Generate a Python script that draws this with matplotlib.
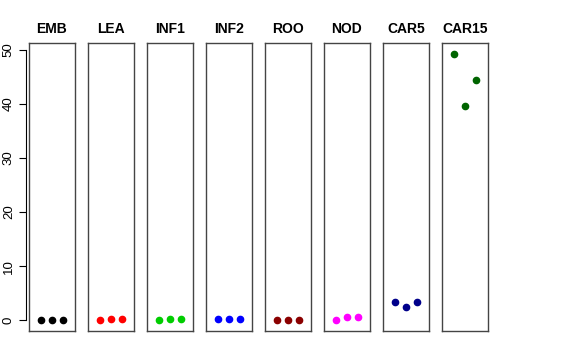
import matplotlib
matplotlib.use("Agg")
import matplotlib.pyplot as plt

plt.rcParams['font.family'] = ['Liberation Sans', 'DejaVu Sans']

groups = ['EMB', 'LEA', 'INF1', 'INF2', 'ROO', 'NOD', 'CAR5', 'CAR15']
colors = ['black', 'red', '#00CD00', 'blue', '#8B0000', 'magenta', '#00008B', '#006400']
reps = [1, 2, 3]
values = [
    [0.0, 0.0, 0.0],
    [0.1, 0.25, 0.3],
    [0.1, 0.2, 0.2],
    [0.25, 0.3, 0.15],
    [-0.05, 0.0, -0.05],
    [0.1, 0.6, 0.55],
    [3.3, 2.5, 3.4],
    [49.3, 39.7, 44.4],
]
yticks = [0, 10, 20, 30, 40, 50]


def main():
    fig = plt.figure(figsize=(5.76, 3.6), dpi=100)
    left0 = 29 / 576
    step = 59 / 576
    w = 46 / 576
    for i, g in enumerate(groups):
        ax = fig.add_axes([left0 + i * step, 0.0806, w, 0.80])
        ax.plot(reps, values[i], 'o', color=colors[i], ms=4.5)
        ax.set_xlim(-0.17, 4.17)
        ax.set_ylim(-2.0, 51.3)
        ax.set_xticks([])
        ax.set_yticks([])
        for s in ax.spines.values():
            s.set_color('#444444')
            s.set_linewidth(1.0)
        ax.set_title(g, fontweight='bold', fontsize=10, pad=7)
        if i == 0:
            sec = ax.secondary_yaxis(-0.065)
            sec.set_yticks(yticks)
            sec.spines['left'].set_bounds(0, 50)
            sec.spines['left'].set_color('black')
            sec.tick_params(axis='y', length=5, labelsize=9.5, pad=3)
            for lab in sec.get_yticklabels():
                lab.set_rotation(90)
                lab.set_va('center')
    fig.savefig('out.png', dpi=100)


if __name__ == "__main__":
    main()
